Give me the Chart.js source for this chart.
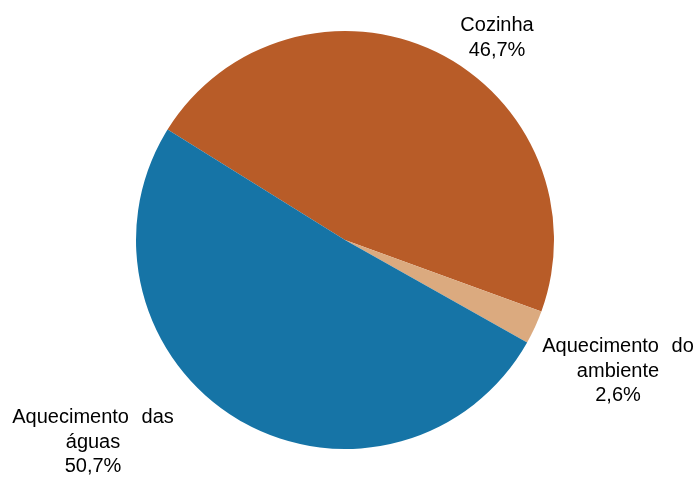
<!DOCTYPE html>
<html>
<head>
<meta charset="utf-8">
<script src="https://cdn.jsdelivr.net/npm/chart.js@4"></script>
<style>
  html, body { margin: 0; padding: 0; background: #fff; }
  #wrap { width: 699px; height: 478px; }
</style>
</head>
<body>
<div id="wrap"><canvas id="pieChart"></canvas></div>
<script>
const categories = ['Cozinha', 'Aquecimento do ambiente', 'Aquecimento das águas'];
const values = [46.7, 2.6, 50.7];
const labelLines = [
    ['Cozinha', '46,7%'],
    ['Aquecimento do', 'ambiente', '2,6%'],
    ['Aquecimento das', 'águas', '50,7%']
];
const sliceColors = ['#b85c28', '#dbaa7f', '#1674a6'];

// where each label sits, relative to the pie centre (first baseline)
const labelOffsets = [
    {dx: 152, dy: -209},
    {dx: 273, dy: 112},
    {dx: -252, dy: 183}
];

const outsideLabels = {
    id: 'outsideLabels',
    afterDraw(chart) {
        const ctx = chart.ctx;
        const arc = chart.getDatasetMeta(0).data[0];
        ctx.save();
        ctx.fillStyle = '#000';
        ctx.font = '20px "Liberation Sans", Arial, sans-serif';
        ctx.wordSpacing = '7px';
        ctx.textAlign = 'center';
        ctx.textBaseline = 'alphabetic';
        labelLines.forEach((lines, i) => {
            const x = arc.x + labelOffsets[i].dx;
            lines.forEach((line, j) => {
                ctx.fillText(line, x, arc.y + labelOffsets[i].dy + j * 24.5);
            });
        });
        ctx.restore();
    }
};

new Chart(document.getElementById('pieChart'), {
    type: 'pie',
    data: {
        labels: categories,
        datasets: [{
            data: values,
            backgroundColor: sliceColors,
            borderWidth: 0
        }]
    },
    options: {
        responsive: true,
        maintainAspectRatio: false,
        animation: false,
        rotation: 301.9,
        layout: { padding: { top: 31, bottom: 29, left: 0, right: 9 } },
        plugins: {
            legend: { display: false },
            tooltip: { enabled: false }
        }
    },
    plugins: [outsideLabels]
});
</script>
</body>
</html>
